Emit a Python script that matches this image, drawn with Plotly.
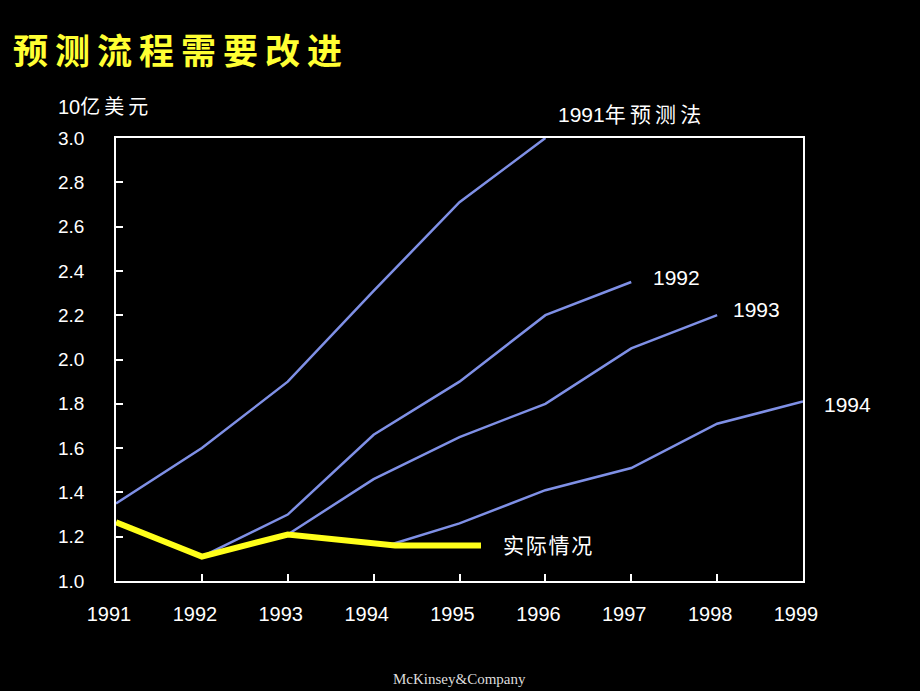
import plotly.graph_objects as go

# ---- data ----
f1991_x = [1991, 1992, 1993, 1994, 1995, 1996]
f1991_y = [1.35, 1.60, 1.90, 2.31, 2.71, 3.00]

f1992_x = [1992, 1993, 1994, 1995, 1996, 1997]
f1992_y = [1.11, 1.30, 1.66, 1.90, 2.20, 2.35]

f1993_x = [1993, 1994, 1995, 1996, 1997, 1998]
f1993_y = [1.21, 1.46, 1.65, 1.80, 2.05, 2.20]

f1994_x = [1994.2, 1995, 1996, 1997, 1998, 1999]
f1994_y = [1.165, 1.26, 1.41, 1.51, 1.71, 1.81]

actual_x = [1991, 1992, 1993, 1994.25, 1995.25]
actual_y = [1.265, 1.11, 1.21, 1.16, 1.16]

x_ticks = [1991, 1992, 1993, 1994, 1995, 1996, 1997, 1998, 1999]
y_ticks = [1.0, 1.2, 1.4, 1.6, 1.8, 2.0, 2.2, 2.4, 2.6, 2.8, 3.0]

title_text = "预测流程需要改进"
unit_text = "10亿美元"
labels = ["1991年预测法", "1992", "1993", "1994", "实际情况"]
footer = "McKinsey&Company"

BLUE = "#7f90e6"
YELLOW = "#ffff1a"
FONT = "Liberation Sans, Arial, Noto Sans CJK SC"

fig = go.Figure()
for xs, ys in [(f1991_x, f1991_y), (f1992_x, f1992_y), (f1993_x, f1993_y), (f1994_x, f1994_y)]:
    fig.add_trace(go.Scatter(x=xs, y=ys, mode="lines",
                             line=dict(color=BLUE, width=2.5),
                             showlegend=False, hoverinfo="skip", cliponaxis=False))
fig.add_trace(go.Scatter(x=actual_x, y=actual_y, mode="lines",
                         line=dict(color=YELLOW, width=6),
                         showlegend=False, hoverinfo="skip", cliponaxis=False))

def spaced(s, sep="\u200a"):
    # add spacing between CJK characters only
    out = ""
    for i, ch in enumerate(s):
        out += ch
        if i < len(s) - 1 and ord(ch) > 0x2E80 and ord(s[i + 1]) > 0x2E80:
            out += sep
    return out

ann_font = dict(family=FONT, size=21, color="white")
# series labels (paper coordinates)
label_pos = [(0.641, 1.054), (0.779, 0.686), (0.895, 0.612), (1.027, 0.398), (0.561, 0.081)]
label_sep = ["\u2009", "", "", "", "\u200a"]
for txt, sep, (lx, ly) in zip(labels, label_sep, label_pos):
    fig.add_annotation(x=lx, y=ly, xref="paper", yref="paper", text=spaced(txt, sep or "\u200a"),
                       showarrow=False, xanchor="left", yanchor="middle", font=ann_font)

fig.add_annotation(x=-0.087, y=1.07, xref="paper", yref="paper", text=spaced(unit_text, "\u2009"),
                   showarrow=False, xanchor="left", yanchor="middle",
                   font=dict(family=FONT, size=20, color="white"))

fig.add_annotation(x=-0.153, y=1.203, xref="paper", yref="paper",
                   text="<b>" + "\u2009".join(title_text) + "</b>",
                   showarrow=False, xanchor="left", yanchor="middle",
                   font=dict(family="Noto Sans CJK SC", size=35, color="#ffff33"))

fig.add_annotation(x=0.5007, y=-0.221, xref="paper", yref="paper", text=footer,
                   showarrow=False, xanchor="center", yanchor="middle",
                   font=dict(family="Liberation Serif, Times New Roman", size=15, color="#dddddd"))

axis_common = dict(showgrid=False, zeroline=False, showline=True, linecolor="white",
                   linewidth=1.5, mirror=True, ticks="inside", ticklen=7,
                   tickcolor="white", tickwidth=1.5)

fig.update_xaxes(range=[1991, 1999], tickvals=x_ticks, ticktext=[str(v) for v in x_ticks],
                 ticklabelstandoff=14, ticklabelshift=-7,
                 tickfont=dict(family=FONT, size=20, color="white"), **axis_common)
fig.update_yaxes(range=[1.0, 3.0], tickvals=y_ticks, ticktext=[f"{v:.1f}" for v in y_ticks],
                 ticklabelstandoff=26,
                 tickfont=dict(family=FONT, size=19, color="white"), **axis_common)

fig.update_layout(width=920, height=691, autosize=False,
                  paper_bgcolor="black", plot_bgcolor="black",
                  margin=dict(l=116, r=117, t=138, b=110),
                  showlegend=False)

fig.write_html("out.html", config={"displayModeBar": False},
               post_script="document.body.style.margin='0';document.body.style.background='black';")
